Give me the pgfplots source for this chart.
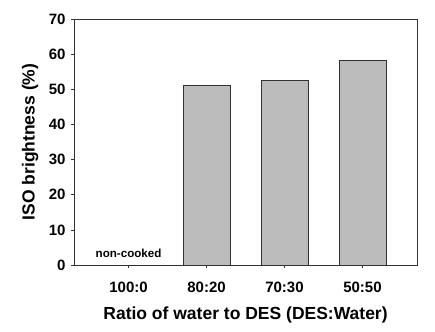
\documentclass[border=0pt]{standalone}
\usepackage{pgfplots}
\pgfplotsset{compat=1.18}
\usepackage{fontspec}
\setmainfont{Liberation Sans}
\definecolor{barfill}{RGB}{188,188,188}
\definecolor{edge}{RGB}{50,50,50}
\begin{document}
\begin{tikzpicture}
\begin{axis}[
  scale only axis, width=343pt, height=246pt,
  xmin=-0.7, xmax=3.7, ymin=0, ymax=70,
  xtick={0,1,2,3}, xticklabels={100:0,80:20,70:30,50:50},
  ytick={0,10,...,70},
  /pgf/number format/assume math mode=true,
  tick label style={font=\fontsize{15}{17}\selectfont\bfseries},
  tick align=outside, tick pos=left,
  major tick length=3pt,
  axis line style={edge, line width=0.7pt},
  tick style={edge, line width=0.7pt},
  xlabel={Ratio of water to DES (DES:Water)},
  ylabel={ISO brightness (\%)},
  label style={font=\fontsize{17.5}{20}\selectfont\bfseries},
  xlabel style={at={(axis description cs:0.5,-0.2033)}, anchor=center},
  ylabel style={at={(axis description cs:-0.128,0.5)}, anchor=center},
  xticklabel style={anchor=center, yshift=-19pt},
  yticklabel style={xshift=-2pt},
]
\addplot[ybar, bar width=0.6, fill=barfill, draw=edge, line width=0.6pt]
  coordinates {(1,51.1) (2,52.5) (3,58.3)};
\node[font=\fontsize{11.6}{13}\selectfont\bfseries] at (axis cs:0,3.4) {non-cooked};
\coordinate (ll) at (rel axis cs:0,0);
\coordinate (ur) at (rel axis cs:1,1);
\end{axis}
\path (ll) ++(-74pt,-66pt) coordinate (a);
\path (ur) ++(18pt,19pt) coordinate (b);
\path[use as bounding box] (a) rectangle (b);
\end{tikzpicture}
\end{document}
